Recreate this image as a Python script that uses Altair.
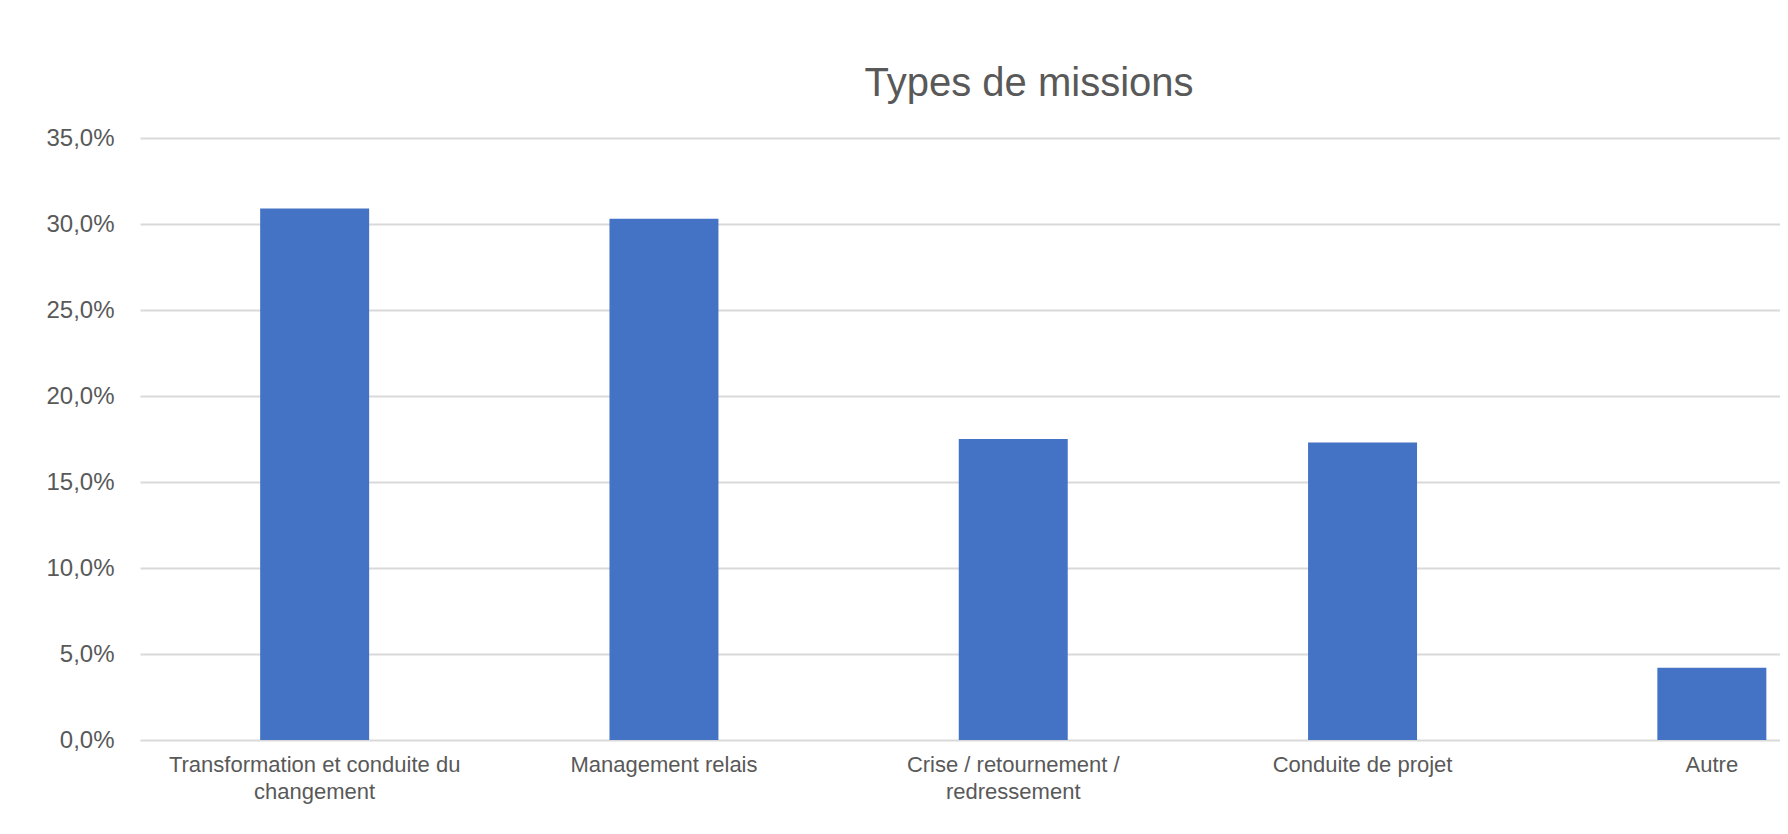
import altair as alt
import pandas as pd

# Data
categories = [
    "Transformation et conduite du changement",
    "Management relais",
    "Crise / retournement / redressement",
    "Conduite de projet",
    "Autre",
]
label_lines = [
    ["Transformation et conduite du", "changement"],
    ["Management relais"],
    ["Crise / retournement /", "redressement"],
    ["Conduite de projet"],
    ["Autre"],
]
shares = [0.309, 0.303, 0.175, 0.173, 0.042]
y_ticks = [0.0, 0.05, 0.10, 0.15, 0.20, 0.25, 0.30, 0.35]
title_text = "Types de missions"

df = pd.DataFrame({"type": categories, "share": shares})

# Build a label expression for multi-line category labels
parts = []
for cat, lines in zip(categories, label_lines):
    arr = "[" + ", ".join("'" + l.replace("'", "\\'") + "'" for l in lines) + "]"
    parts.append(f"datum.value == '{cat}' ? {arr}")
label_expr = " : ".join(parts) + " : datum.value"

FONT = "Liberation Sans"
GREY = "#595959"

chart = (
    alt.Chart(df)
    .mark_bar(color="#4472C4")
    .encode(
        x=alt.X(
            "type:N",
            sort=categories,
            title=None,
            scale=alt.Scale(range=[0, 1746.5], paddingInner=0.688, paddingOuter=0.344),
            axis=alt.Axis(
                labelAngle=0,
                labelExpr=label_expr,
                labelFont=FONT,
                labelFontSize=22,
                labelColor=GREY,
                labelLineHeight=27,
                labelPadding=14,
                labelLimit=400,
                ticks=False,
                domain=False,
                grid=False,
            ),
        ),
        y=alt.Y(
            "share:Q",
            title=None,
            scale=alt.Scale(domain=[0, 0.35], nice=False),
            axis=alt.Axis(
                values=y_ticks,
                labelExpr="replace(format(datum.value, '.1%'), '.', ',')",
                labelFont=FONT,
                labelFontSize=24,
                labelColor=GREY,
                labelPadding=26,
                ticks=False,
                domain=False,
                grid=True,
                gridColor="#d9d9d9",
                gridWidth=2,
            ),
        ),
    )
    .properties(
        width=1640,
        height=602,
        autosize=alt.AutoSizeParams(type="none"),
        padding={"left": 132, "top": 130, "right": 0, "bottom": 80},
        background="white",
        title=alt.TitleParams(
            text=title_text,
            font=FONT,
            fontSize=40,
            fontWeight="normal",
            color=GREY,
            anchor="middle",
            dx=69,
            offset=22,
        ),
    )
    .configure_view(strokeWidth=0, stroke="transparent")
)

chart.save("out.html", embed_options={"renderer": "svg", "actions": False})
